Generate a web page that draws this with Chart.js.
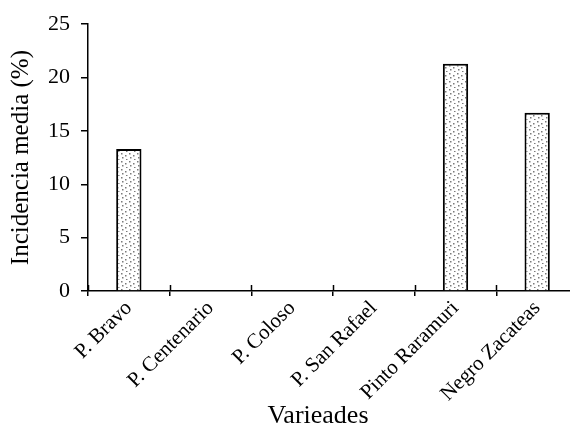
<!DOCTYPE html>
<html>
<head>
<meta charset="utf-8">
<script src="https://cdn.jsdelivr.net/npm/chart.js@4/dist/chart.umd.min.js"></script>
<style>
  html, body { margin: 0; padding: 0; background: #fff; overflow: hidden; }
  #wrap { width: 578px; height: 423px; }
</style>
</head>
<body>
<div id="wrap"><canvas id="myChart" width="578" height="423"></canvas></div>
<script>
const variedades = ['P. Bravo', 'P. Centenario', 'P. Coloso', 'P. San Rafael', 'Pinto Raramuri', 'Negro Zacateas'];
const incidencia = [13.3, 0, 0, 0, 21.3, 16.7];
const yTicks = [0, 5, 10, 15, 20, 25];

const serif = 'Liberation Serif';

// dotted fill like the original figure
function dotPattern() {
    const c = document.createElement('canvas');
    c.width = 8; c.height = 8;
    const g = c.getContext('2d');
    g.fillStyle = '#fff';
    g.fillRect(0, 0, 8, 8);
    g.fillStyle = '#7a7a7a';
    g.fillRect(1, 1, 1.5, 1.5);
    g.fillRect(5, 3, 1.5, 1.5);
    g.fillRect(2, 5, 1.5, 1.5);
    g.fillRect(6, 7, 1.5, 1.5);
    return document.getElementById('myChart').getContext('2d').createPattern(c, 'repeat');
}

// x ticks cross the axis line: draw the part above it, plus the axis title
const crossTicks = {
    id: 'crossTicks',
    afterDraw(chart) {
        const x = chart.scales.x;
        const ctx = chart.ctx;
        const step = x.width / variedades.length;
        ctx.save();
        ctx.strokeStyle = '#000';
        ctx.lineWidth = 1.5;
        for (let i = 0; i <= variedades.length; i++) {
            const px = Math.round(x.left + i * step) + 0.5;
            ctx.beginPath();
            ctx.moveTo(px, x.top - 6);
            ctx.lineTo(px, x.top);
            ctx.stroke();
        }
        ctx.fillStyle = '#000';
        ctx.font = '26px "' + serif + '"';
        ctx.textAlign = 'center';
        ctx.textBaseline = 'alphabetic';
        ctx.fillText('Varieades', 318, 423);
        ctx.restore();
    }
};

const ctx = document.getElementById('myChart').getContext('2d');
new Chart(ctx, {
    type: 'bar',
    data: {
        labels: variedades,
        datasets: [{
            label: 'Incidencia media (%)',
            data: incidencia,
            backgroundColor: dotPattern(),
            borderColor: '#000',
            borderWidth: 2,
            barPercentage: 0.31,
            categoryPercentage: 1
        }]
    },
    plugins: [crossTicks],
    options: {
        responsive: false,
        animation: false,
        layout: { padding: { top: 16, right: 0, left: 0, bottom: 0 } },
        plugins: {
            legend: { display: false },
            tooltip: { enabled: false }
        },
        scales: {
            x: {
                afterFit: s => { s.height = 132; },
                grid: {
                    display: true,
                    drawOnChartArea: false,
                    offset: true,
                    color: '#000',
                    lineWidth: 1.5,
                    tickLength: 5
                },
                border: { color: '#000', width: 1.5 },
                ticks: {
                    color: '#000',
                    font: { family: serif, size: 21 },
                    minRotation: 45,
                    maxRotation: 45,
                    padding: 0
                }
            },
            y: {
                min: 0,
                max: 25,
                afterFit: s => { s.width = 88; },
                afterBuildTicks: s => { s.ticks = yTicks.map(v => ({ value: v })); },
                grid: {
                    display: true,
                    drawOnChartArea: false,
                    color: '#000',
                    lineWidth: 1.5,
                    tickLength: 7
                },
                border: { color: '#000', width: 1.5 },
                ticks: {
                    color: '#000',
                    font: { family: serif, size: 22 },
                    padding: 11
                },
                title: {
                    display: true,
                    text: 'Incidencia media (%)',
                    color: '#000',
                    font: { family: serif, size: 25 },
                    padding: { top: 6, bottom: 0 }
                }
            }
        }
    }
});
</script>
</body>
</html>
